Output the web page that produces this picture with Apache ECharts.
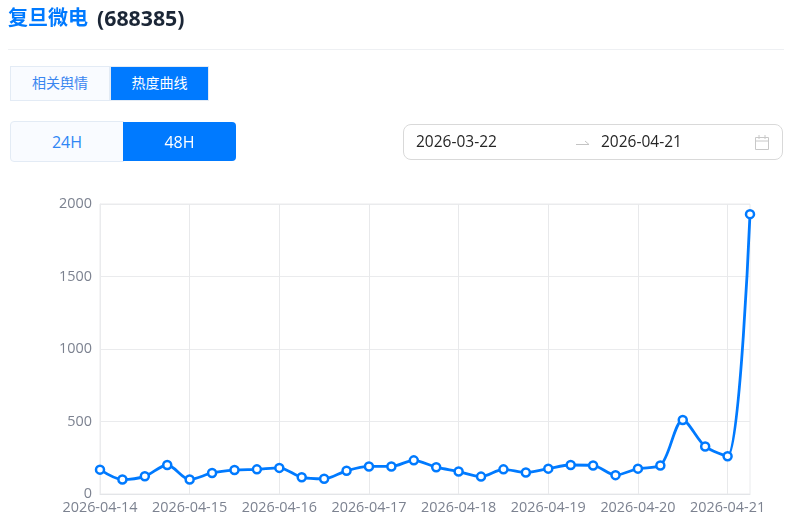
<!DOCTYPE html>
<html><head><meta charset="utf-8">
<script src="https://cdn.jsdelivr.net/npm/echarts@6/dist/echarts.min.js"></script>
<style>
html,body{margin:0;padding:0;background:#fff;width:803px;height:526px;overflow:hidden;font-family:"Open Sans","Noto Sans CJK SC",sans-serif}
#chart{position:absolute;left:0;top:0;width:803px;height:526px}
.a{position:absolute;box-sizing:border-box;white-space:nowrap}
.c{display:flex;align-items:center;justify-content:center}
</style></head><body>
<div id="chart"></div>
<div class="a" style="left:8px;top:3px;font-size:20px;font-weight:700;line-height:28px;color:#007aff;font-family:'Noto Sans CJK SC'">复旦微电</div>
<div class="a" style="left:97px;top:4px;font-size:21.3px;font-weight:700;line-height:28px;color:#1b2636;font-family:'Open Sans'">(688385)</div>
<div class="a" style="left:8px;top:49px;width:776px;height:1px;background:#eef0f3"></div>
<div class="a c" style="left:10px;top:66px;width:100px;height:35px;padding-bottom:3px;background:#f9fbff;border:1px solid #e3ebf5;color:#3a86f0;font-size:14px;font-family:'Noto Sans CJK SC'">相关舆情</div>
<div class="a c" style="left:110px;top:66px;width:99px;height:35px;padding-bottom:3px;background:#007aff;border:1px solid #e3ebf5;color:#fff;font-size:14px;font-family:'Noto Sans CJK SC'">热度曲线</div>
<div class="a c" style="left:10px;top:121px;width:114px;height:41px;background:#f9fbff;border:1px solid #e3ebf5;border-radius:4px 0 0 4px;color:#2f86f5;font-size:16px">24H</div>
<div class="a c" style="left:123px;top:122px;width:113px;height:39px;background:#007aff;border-radius:0 4px 4px 0;color:#fff;font-size:16px">48H</div>
<div class="a" style="left:403px;top:124px;width:380px;height:36px;border:1px solid #d9d9d9;border-radius:8px"></div>
<div class="a" style="left:416px;top:131px;font-size:15.5px;line-height:20px;color:#262626">2026-03-22</div>
<div class="a" style="left:601px;top:131px;font-size:15.5px;line-height:20px;color:#262626">2026-04-21</div>
<svg class="a" style="left:575px;top:137px" width="16" height="10"><path d="M1 7.5H14L10 4" fill="none" stroke="#c4c4c4" stroke-width="1"/></svg>
<svg class="a" style="left:754px;top:134px" width="16" height="16"><path d="M1.5 3.5H14.5V15.5H1.5ZM1.5 7H14.5M5 1V5M11 1V5" fill="none" stroke="#c8c8c8" stroke-width="1"/></svg>
<script>
const days = ["14","15","16","17","18","19","20","21"];
const hours = ["00:00","06:00","12:00","18:00"];
const categories = [];
days.forEach(d => hours.forEach(h => categories.push("2026-04-" + d + " " + h)));
categories.length = 30;
const heat = [168,100,122,200,100,145,165,170,180,115,105,160,190,190,232,185,155,120,170,148,175,200,197,130,175,197,510,328,260,1930];
const yTicks = {min:0,max:2000,interval:500};
const everyFourth = i => i % 4 === 0;
const chart = echarts.init(document.getElementById('chart'),null,{renderer:'canvas'});
chart.setOption({
  animation:false,
  grid:{left:100,top:204,width:650,height:290,show:true,borderColor:'#eaebed',borderWidth:1,backgroundColor:'transparent'},
  xAxis:{type:'category',boundaryGap:false,data:categories,
    axisTick:{show:false},
    axisLine:{show:true,lineStyle:{color:'#e3e5e8',width:1}},
    axisLabel:{interval:everyFourth,color:'#7c8290',fontSize:14.4,margin:7,hideOverlap:false,
      fontFamily:'Open Sans',formatter:v=>v.slice(0,10)},
    splitLine:{show:true,interval:everyFourth,lineStyle:{color:'#e8e9eb',width:1}}},
  yAxis:{type:'value',min:yTicks.min,max:yTicks.max,interval:yTicks.interval,
    axisTick:{show:false},axisLine:{show:true,lineStyle:{color:'#eaebed'}},
    axisLabel:{color:'#7c8290',fontSize:14.4,margin:8,padding:[3,0,0,0],fontFamily:'Open Sans',formatter:v=>String(v)},
    splitLine:{show:true,lineStyle:{color:'#eaebed',width:1}}},
  series:[{type:'line',data:heat,smooth:0.3,symbol:'circle',symbolSize:8,showAllSymbol:true,
    lineStyle:{color:'#007aff',width:2.8},
    itemStyle:{color:'#fff',borderColor:'#007aff',borderWidth:2.5}}]
});
</script>
</body></html>
